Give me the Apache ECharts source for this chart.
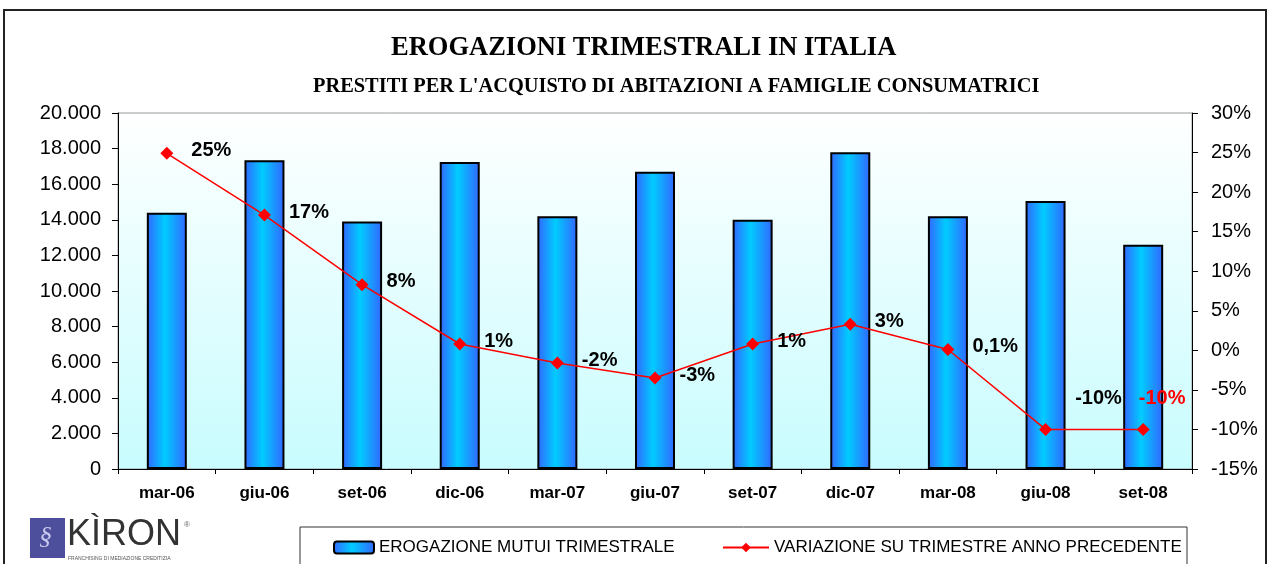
<!DOCTYPE html>
<html>
<head>
<meta charset="utf-8">
<script src="https://cdn.jsdelivr.net/npm/echarts@6/dist/echarts.min.js"></script>
<style>
  html, body { margin: 0; padding: 0; background: #fff; }
  #mChart { width: 1270px; height: 564px; }
</style>
</head>
<body>
<div id="mChart"></div>
<script>
// trimestri
var categories = ['mar-06', 'giu-06', 'set-06', 'dic-06', 'mar-07', 'giu-07', 'set-07', 'dic-07', 'mar-08', 'giu-08', 'set-08'];
// erogazione mutui trimestrale (milioni di euro)
var erogazioni = [14400, 17350, 13900, 17250, 14200, 16700, 14000, 17800, 14200, 15050, 12600];
// variazione su trimestre anno precedente (%)
var variazione = [24.9, 17.1, 8.3, 0.8, -1.6, -3.5, 0.8, 3.3, 0.1, -10.0, -10.0];
// etichette come nel grafico originale
var varLabels = ['25%', '17%', '8%', '1%', '-2%', '-3%', '1%', '3%', '0,1%', '-10%', '-10%'];
var leftTicks = [0, 20000, 2000];
var rightTicks = [-15, 30, 5];

var serieBar = 'EROGAZIONE MUTUI TRIMESTRALE';
var serieLine = 'VARIAZIONE SU TRIMESTRE ANNO PRECEDENTE';

function fmtMigliaia(v) {
  return String(v).replace(/\B(?=(\d{3})+(?!\d))/g, '.');
}

var barColor = new echarts.graphic.LinearGradient(0, 0, 1, 0, [
  { offset: 0, color: '#3366ff' },
  { offset: 0.45, color: '#00ccff' },
  { offset: 1, color: '#3366ff' }
]);

var last = variazione.length - 1;
var lineData = variazione.map(function (v, i) {
  var lab = { formatter: varLabels[i] };
  if (v <= -10) {
    lab.position = 'top';
    lab.distance = 14;
    lab.offset = [i === last ? 19 : 53, 0];
  }
  if (i === last) lab.color = '#ff0000';
  return { value: v, label: lab };
});

var myChart = echarts.init(document.getElementById('mChart'));
myChart.setOption({
  animation: false,
  backgroundColor: '#fff',
  title: [
    {
      text: 'EROGAZIONI TRIMESTRALI IN ITALIA',
      left: 386, top: 30,
      textStyle: { fontFamily: 'Liberation Serif', fontWeight: 'bold', fontSize: 26.5, color: '#000' }
    },
    {
      text: "PRESTITI PER L'ACQUISTO DI ABITAZIONI A FAMIGLIE CONSUMATRICI",
      left: 308, top: 72,
      textStyle: { fontFamily: 'Liberation Serif', fontWeight: 'bold', fontSize: 20.4, color: '#000' }
    }
  ],
  legend: [
    {
      data: [serieBar],
      left: 328, top: 534,
      itemWidth: 40, itemHeight: 12,
      textStyle: { fontFamily: 'Liberation Sans', fontSize: 17, color: '#000' }
    },
    {
      data: [serieLine],
      left: 717, top: 534,
      itemWidth: 46, itemHeight: 12,
      textStyle: { fontFamily: 'Liberation Sans', fontSize: 17, color: '#000' }
    }
  ],
  grid: {
    left: 118, right: 78, top: 113, bottom: 95,
    show: true,
    borderWidth: 1,
    borderColor: '#999',
    backgroundColor: new echarts.graphic.LinearGradient(0, 0, 0, 1, [
      { offset: 0, color: '#ffffff' },
      { offset: 1, color: '#c8fcfe' }
    ])
  },
  xAxis: {
    type: 'category',
    data: categories,
    axisLine: { lineStyle: { color: '#000', width: 1 } },
    axisTick: { show: true, length: 5, lineStyle: { color: '#000' } },
    axisLabel: { margin: 16, fontFamily: 'Liberation Sans', fontWeight: 'bold', fontSize: 17, color: '#000' }
  },
  yAxis: [
    {
      type: 'value',
      min: leftTicks[0], max: leftTicks[1], interval: leftTicks[2],
      axisLine: { show: true, lineStyle: { color: '#000' } },
      axisTick: { show: true, length: 6, lineStyle: { color: '#000' } },
      splitLine: { show: false },
      axisLabel: {
        margin: 17, fontFamily: 'Liberation Sans', fontSize: 20, color: '#000',
        formatter: fmtMigliaia
      }
    },
    {
      type: 'value',
      min: rightTicks[0], max: rightTicks[1], interval: rightTicks[2],
      position: 'right',
      axisLine: { show: true, lineStyle: { color: '#000' } },
      axisTick: { show: true, length: 6, lineStyle: { color: '#000' } },
      splitLine: { show: false },
      axisLabel: {
        margin: 19, fontFamily: 'Liberation Sans', fontSize: 20, color: '#000',
        formatter: '{value}%'
      }
    }
  ],
  series: [
    {
      name: serieBar,
      type: 'bar',
      barWidth: 40,
      data: erogazioni,
      itemStyle: { color: barColor, borderColor: '#000', borderWidth: 2 }
    },
    {
      name: serieLine,
      type: 'line',
      yAxisIndex: 1,
      data: lineData,
      symbol: 'diamond',
      symbolSize: 13,
      lineStyle: { color: '#ff0000', width: 1.5 },
      itemStyle: { color: '#ff0000' },
      label: {
        show: true,
        position: 'right',
        distance: 18,
        offset: [0, -3],
        fontFamily: 'Liberation Sans',
        fontWeight: 'bold',
        fontSize: 20,
        color: '#000'
      },
      z: 5
    }
  ],
  graphic: [
    // cornice esterna
    {
      type: 'rect', silent: true, z: -1,
      shape: { x: 4, y: 10, width: 1262, height: 600 },
      style: { fill: 'none', stroke: '#222', lineWidth: 2 }
    },
    // riquadro legenda
    {
      type: 'rect', silent: true,
      shape: { x: 300, y: 527, width: 887, height: 60 },
      style: { fill: 'none', stroke: '#333', lineWidth: 1 }
    },
    // logo Kiron
    {
      type: 'group', left: 30, top: 517,
      children: [
        { type: 'rect', shape: { x: 0, y: 0, width: 35, height: 40 }, style: { fill: '#4d4f9c' } },
        { type: 'text', x: 9, y: 6, style: { text: '\u00a7', fill: '#c8c8ee', font: 'italic 26px Liberation Serif' } },
        { type: 'text', x: 37, y: -1, style: { text: 'K\u00ccRON', fill: '#333', font: '36px Liberation Sans' } },
        { type: 'text', x: 154, y: 3, style: { text: '\u00ae', fill: '#666', font: '8px Liberation Sans' } },
        { type: 'text', x: 38, y: 38, style: { text: 'FRANCHISING DI MEDIAZIONE CREDITIZIA', fill: '#555', font: '5px Liberation Sans' } }
      ]
    }
  ]
});
</script>
</body>
</html>
